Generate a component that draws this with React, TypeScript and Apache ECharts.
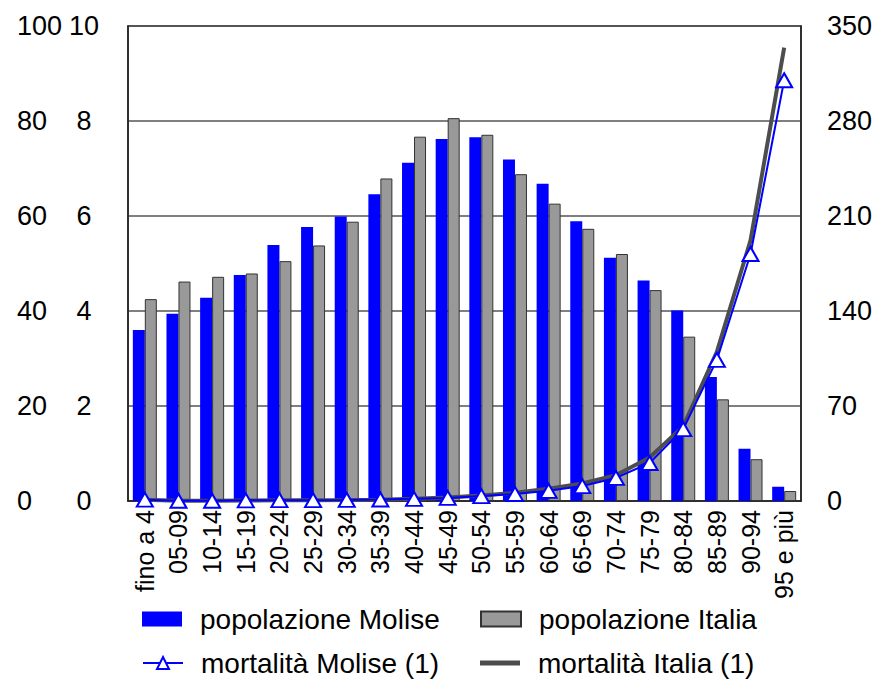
import React, { useEffect, useRef } from "react";
import * as echarts from "echarts";

const categories = ["fino a 4", "05-09", "10-14", "15-19", "20-24", "25-29", "30-34", "35-39", "40-44", "45-49", "50-54", "55-59", "60-64", "65-69", "70-74", "75-79", "80-84", "85-89", "90-94", "95 e più"];
const popMolise = [3.6, 3.94, 4.28, 4.76, 5.39, 5.77, 5.99, 6.46, 7.12, 7.62, 7.66, 7.19, 6.68, 5.89, 5.12, 4.64, 4.01, 2.61, 1.1, 0.3];
const popItalia = [4.25, 4.62, 4.72, 4.79, 5.05, 5.38, 5.88, 6.79, 7.67, 8.06, 7.71, 6.88, 6.26, 5.73, 5.2, 4.44, 3.46, 2.14, 0.88, 0.21];
const mortMolise = [1, 0.2, 0.2, 0.5, 0.6, 0.6, 0.8, 1.1, 1.6, 2.3, 3.6, 5.2, 7.5, 11, 17, 28, 53, 104, 182, 310];
const mortItalia = [1, 0.2, 0.2, 0.4, 0.5, 0.5, 0.7, 1.0, 1.6, 2.6, 4, 6, 9, 13, 19, 32, 55, 110, 192, 334];

const FONT = "'Liberation Sans', Arial, sans-serif";

export default function App() {
  const ref = useRef<HTMLDivElement>(null);
  useEffect(() => {
    if (!ref.current) return;
    const chart = echarts.init(ref.current, null, { renderer: "svg" });
    const legendText = { fontSize: 28, lineHeight: 28, color: "#000", fontFamily: FONT, padding: [0, 0, 0, 13] };
    const legendBase = { padding: 0, itemWidth: 40, itemHeight: 15, textStyle: legendText };
    chart.setOption({
      animation: false,
      textStyle: { fontFamily: FONT },
      grid: { left: 128, right: 78, top: 26, bottom: 178, show: true, borderColor: "#222", borderWidth: 1.5, containLabel: false },
      legend: [
        { ...legendBase, data: [{ name: "popolazione Molise", icon: "rect" }], left: 142, top: 605 },
        { ...legendBase, data: [{ name: "popolazione Italia", icon: "rect" }], left: 480, top: 605 },
        { ...legendBase, data: ["mortalità Molise (1)"], left: 142, top: 649 },
        { ...legendBase, itemHeight: 5, data: [{ name: "mortalità Italia (1)", icon: "rect", itemStyle: { color: "#4d4d4d" } }], left: 480, top: 649 },
      ],
      xAxis: {
        type: "category",
        data: categories,
        axisLine: { show: true, lineStyle: { color: "#222", width: 1.5 } },
        axisTick: { show: false },
        axisLabel: { rotate: 90, interval: 0, fontSize: 25, color: "#000", margin: 9, fontFamily: FONT },
      },
      yAxis: [
        {
          type: "value", min: 0, max: 10, interval: 2, position: "left",
          axisLine: { show: true, lineStyle: { color: "#222", width: 1.5 } },
          axisTick: { show: false },
          splitLine: { show: true, lineStyle: { color: "#555", width: 1.5 } },
          axisLabel: { fontSize: 27, color: "#000", align: "center", margin: 44, fontFamily: FONT },
        },
        {
          type: "value", min: 0, max: 100, interval: 20, position: "left",
          axisLine: { show: false }, axisTick: { show: false }, splitLine: { show: false },
          axisLabel: { fontSize: 27, color: "#000", align: "left", margin: 111, fontFamily: FONT },
        },
        {
          type: "value", min: 0, max: 350, interval: 70, position: "right",
          axisLine: { show: true, lineStyle: { color: "#222", width: 1.5 } },
          axisTick: { show: false }, splitLine: { show: false },
          axisLabel: { fontSize: 27, color: "#000", margin: 26, fontFamily: FONT },
        },
      ],
      series: [
        { name: "popolazione Molise", type: "bar", yAxisIndex: 0, data: popMolise, barWidth: 12, barGap: "0%", itemStyle: { color: "#0000ff" } },
        { name: "popolazione Italia", type: "bar", yAxisIndex: 0, data: popItalia, barWidth: 12, itemStyle: { color: "#999999", borderColor: "#333", borderWidth: 1 } },
        { name: "mortalità Italia (1)", type: "line", yAxisIndex: 2, data: mortItalia, showSymbol: false, symbol: "none", lineStyle: { color: "#4d4d4d", width: 4 }, itemStyle: { color: "#4d4d4d" } },
        {
          name: "mortalità Molise (1)", type: "line", yAxisIndex: 2, data: mortMolise, symbol: "triangle", symbolSize: [16, 14],
          lineStyle: { color: "#0000ff", width: 2 }, itemStyle: { color: "#ffffff", borderColor: "#0000ff", borderWidth: 2 },
        },
      ],
    });
    return () => chart.dispose();
  }, []);
  return <div ref={ref} style={{ position: "absolute", left: 0, top: 0, width: 879, height: 679 }} />;
}
